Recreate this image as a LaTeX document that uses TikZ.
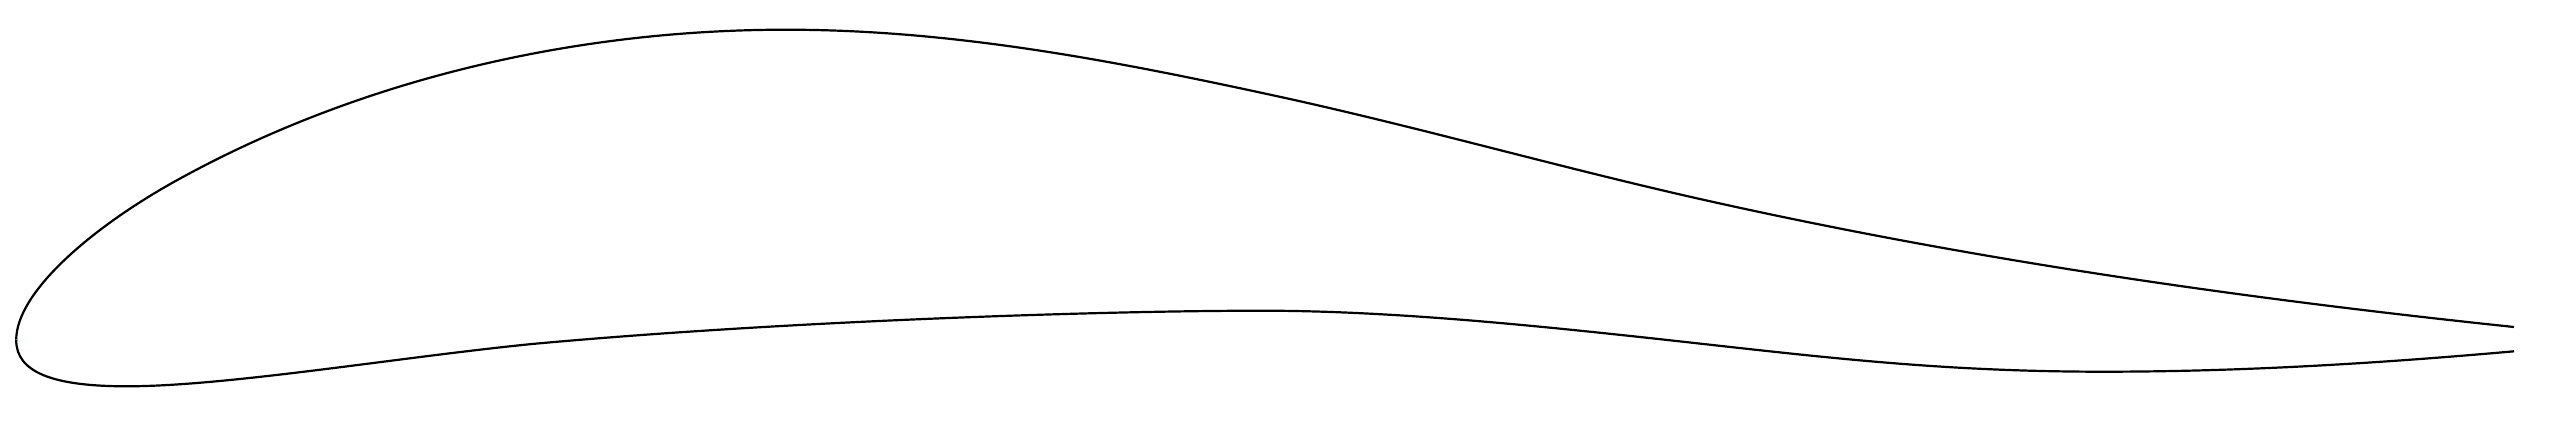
\documentclass[tikz,border=0pt]{standalone}
\usepackage{tikz}

\tikzset{foil/.style={line width=0.22mm, color=black, line join=round}}

\begin{document}
\begin{tikzpicture}[x=0.01cm, y=-0.01cm]
	%%%%% START %%%%%
	\useasboundingbox (0, 0) rectangle (2568, 433);

	% upper side, nose to tail
	\draw[foil] (16.2, 340) .. controls (16.2, 292) and (92, 228) .. (172, 183)
		.. controls (342, 87.8) and (556, 29.7) .. (786, 29.7)
		.. controls (956, 29.7) and (1118, 61.5) .. (1284, 97.7)
		.. controls (1423, 128.3) and (1561, 167.7) .. (1700, 199)
		.. controls (1970, 259.8) and (2244, 298.6) .. (2514, 327);

	% lower side, nose to tail
	\draw[foil] (16.2, 340) .. controls (16.2, 372) and (52, 386.3) .. (126.7, 386.3)
		.. controls (226.7, 386.3) and (397, 357.5) .. (532, 344)
		.. controls (782, 321) and (1102, 310.7) .. (1262, 310.7)
		.. controls (1390, 310.7) and (1532, 325.3) .. (1652, 338.3)
		.. controls (1812, 355.8) and (1933, 371.7) .. (2103, 371.7)
		.. controls (2243, 371.7) and (2379, 363.3) .. (2514, 351.3);

	\fill[green!80!black] (16.2, 339.5) circle (0.8);
	%%%%% END %%%%%
\end{tikzpicture}
\end{document}
